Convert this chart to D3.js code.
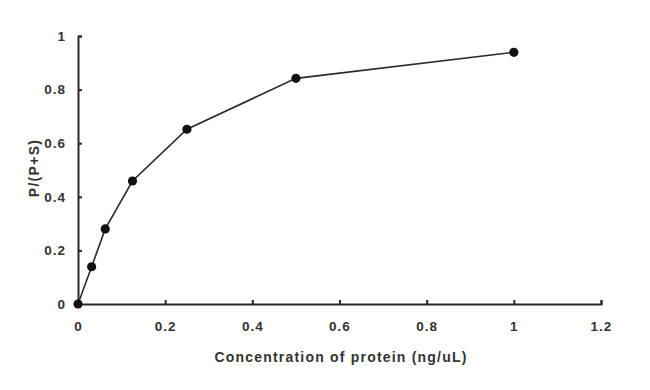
<!DOCTYPE html>
<html><head><meta charset="utf-8">
<script src="https://cdn.jsdelivr.net/npm/d3@7"></script>
<style>body{margin:0;background:#fff}svg{display:block}</style>
</head><body>
<svg id="c" width="650" height="390"></svg>
<script>
const concentration = [0, 0.03125, 0.0625, 0.125, 0.25, 0.5, 1];
const ratio = [0, 0.139, 0.28, 0.459, 0.652, 0.842, 0.939];
const xTicks = [0, 0.2, 0.4, 0.6, 0.8, 1, 1.2];
const yTicks = [0, 0.2, 0.4, 0.6, 0.8, 1];
const xTitle = "Concentration of protein (ng/uL)";
const yTitle = "P/(P+S)";

const svg = d3.select("#c");
const x = d3.scaleLinear().domain([0, 1.2]).range([78, 601]);
const y = d3.scaleLinear().domain([0, 1]).range([304, 36]);
const font = "Liberation Sans, Arial, sans-serif";
const ink = "#2a2a2a";

const xa = svg.append("g").attr("transform", `translate(0,${y(0)})`)
  .call(d3.axisBottom(x).tickValues(xTicks).tickFormat(d3.format("")).tickSize(-4).tickPadding(17));
const ya = svg.append("g").attr("transform", `translate(${x(0)},0)`)
  .call(d3.axisLeft(y).tickValues(yTicks).tickFormat(d3.format("")).tickSize(-4).tickPadding(12));
[xa, ya].forEach(a => {
  a.select(".domain").attr("stroke", ink).attr("stroke-width", 2);
  a.selectAll(".tick line").attr("stroke", ink).attr("stroke-width", 2);
  a.selectAll("text").attr("fill", "#333").attr("font-family", font)
    .attr("font-size", 13.5).attr("font-weight", "bold").attr("letter-spacing", 1);
});

svg.append("path").datum(concentration.map((c, i) => [c, ratio[i]]))
  .attr("fill", "none").attr("stroke", ink).attr("stroke-width", 1.6)
  .attr("d", d3.line().x(d => x(d[0])).y(d => y(d[1])));

svg.selectAll("circle.pt").data(concentration).enter().append("circle")
  .attr("class", "pt").attr("cx", d => x(d)).attr("cy", (d, i) => y(ratio[i]))
  .attr("r", 4.6).attr("fill", "#111");

svg.append("text").attr("x", 341).attr("y", 362).attr("text-anchor", "middle")
  .attr("font-family", font).attr("font-size", 14).attr("font-weight", "bold")
  .attr("letter-spacing", 1.2).attr("fill", "#333").text(xTitle);
svg.append("text").attr("transform", "translate(39,168) rotate(-90)").attr("text-anchor", "middle")
  .attr("font-family", font).attr("font-size", 14).attr("font-weight", "bold")
  .attr("letter-spacing", 1.3).attr("fill", "#333").text(yTitle);
</script>
</body></html>
